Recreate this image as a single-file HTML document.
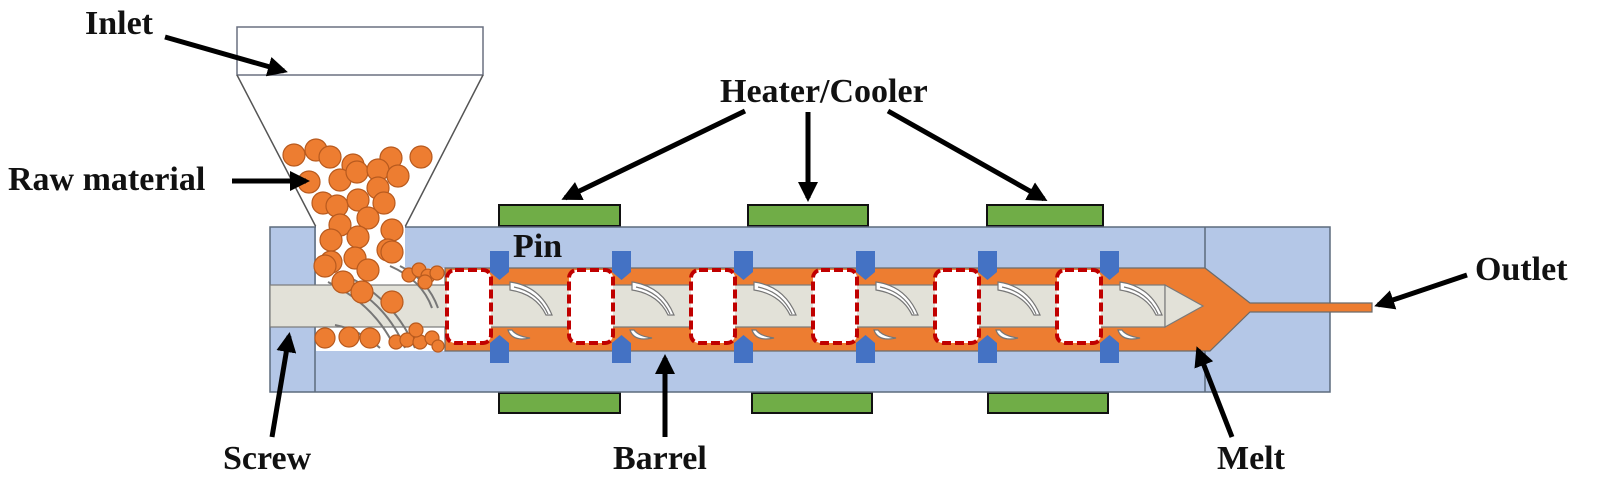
<!DOCTYPE html>
<html><head><meta charset="utf-8"><style>
html,body{margin:0;padding:0;background:#fff;}
svg{display:block;}
text{font-family:"Liberation Serif",serif;font-weight:bold;font-size:34px;fill:#111;}
</style></head><body>
<svg width="1600" height="482" viewBox="0 0 1600 482" xmlns="http://www.w3.org/2000/svg">
<defs>
<marker id="ah" markerWidth="4" markerHeight="4" refX="3.2" refY="2" orient="auto" markerUnits="strokeWidth">
<path d="M0,0 L4,2 L0,4 Z" fill="#000"/></marker>
</defs>
<rect x="237" y="27" width="246" height="48" fill="#fff" stroke="#6a7080" stroke-width="1.5"/>
<path d="M237,75 L316,227 M483,75 L405,227" stroke="#555" stroke-width="1.5" fill="none"/>
<g fill="#70ad47" stroke="#111" stroke-width="2">
<rect x="499" y="205" width="121" height="21"/>
<rect x="748" y="205" width="120" height="21"/>
<rect x="987" y="205" width="116" height="21"/>
<rect x="499" y="393" width="121" height="20"/>
<rect x="752" y="393" width="120" height="20"/>
<rect x="988" y="393" width="120" height="20"/>
</g>
<rect x="270" y="227" width="1060" height="165" fill="#b4c7e7" stroke="#5d6b7d" stroke-width="1.5"/>
<line x1="315" y1="227" x2="315" y2="392" stroke="#5d6b7d" stroke-width="1.5"/>
<line x1="1205" y1="227" x2="1205" y2="392" stroke="#5d6b7d" stroke-width="1.5"/>
<rect x="316" y="226" width="89" height="60" fill="#fff"/>
<rect x="316" y="268" width="130" height="83" fill="#fff"/>
<path d="M445,268 L1205,268 L1250,303 L1372,303 L1372,312 L1250,312 L1210,351 L445,351 Z" fill="#ed7d31" stroke="#6b6b6b" stroke-width="1.2"/>
<rect x="270" y="285" width="895" height="42" fill="#e2e1d8" stroke="#7a7a7a" stroke-width="1.2"/>
<path d="M1165,285 L1203,306 L1165,327 Z" fill="#e2e1d8" stroke="#7a7a7a" stroke-width="1.2"/>
<g fill="none" stroke="#777" stroke-width="2">
<path d="M335,278 Q385,300 405,348"/><path d="M347,276 Q395,300 415,348"/><path d="M328,282 Q375,305 395,348"/>
<path d="M390,266 Q422,280 432,308"/><path d="M400,266 Q428,280 438,308"/>
<path d="M335,325 Q360,330 380,348"/>
</g>
<g fill="#ed7d31" stroke="#b85a1e" stroke-width="1.2">
<circle cx="294" cy="155" r="11"/><circle cx="316" cy="150" r="11"/><circle cx="330" cy="157" r="11"/><circle cx="353" cy="165" r="11"/>
<circle cx="391" cy="158" r="11"/><circle cx="421" cy="157" r="11"/><circle cx="309" cy="182" r="11"/><circle cx="340" cy="180" r="11"/>
<circle cx="357" cy="172" r="11"/><circle cx="378" cy="170" r="11"/><circle cx="398" cy="176" r="11"/><circle cx="378" cy="188" r="11"/>
<circle cx="323" cy="203" r="11"/><circle cx="337" cy="206" r="11"/><circle cx="358" cy="200" r="11"/><circle cx="384" cy="203" r="11"/>
<circle cx="340" cy="225" r="11"/><circle cx="368" cy="218" r="11"/><circle cx="392" cy="230" r="11"/><circle cx="331" cy="240" r="11"/>
<circle cx="358" cy="237" r="11"/><circle cx="388" cy="250" r="11"/><circle cx="331" cy="262" r="11"/><circle cx="355" cy="258" r="11"/>
<circle cx="368" cy="270" r="11"/><circle cx="392" cy="252" r="11"/><circle cx="343" cy="282" r="11"/><circle cx="362" cy="292" r="11"/>
<circle cx="392" cy="302" r="11"/><circle cx="325" cy="266" r="11"/>
<circle cx="325" cy="338" r="10"/><circle cx="349" cy="337" r="10"/><circle cx="370" cy="338" r="10"/>
<circle cx="409" cy="275" r="7"/><circle cx="419" cy="270" r="7"/><circle cx="428" cy="276" r="7"/><circle cx="437" cy="273" r="7"/><circle cx="425" cy="282" r="7"/>
<circle cx="396" cy="342" r="7"/><circle cx="407" cy="340" r="7"/><circle cx="420" cy="342" r="7"/><circle cx="432" cy="338" r="7"/><circle cx="438" cy="346" r="6"/><circle cx="416" cy="330" r="7"/>
</g>
<g id="st">
<path d="M510,282 Q540,286 552,315 L546,315 Q536,294 510,290 Z" fill="#fff" stroke="#777" stroke-width="1.2"/>
<path d="M514,287 Q538,292 548,314" fill="none" stroke="#777" stroke-width="1.2"/>
<path d="M508,330 Q512,342 530,338 Q516,336 512,330 Z" fill="#fff" stroke="#777" stroke-width="1.2"/>
<rect x="447" y="270" width="44" height="73" rx="8" fill="#fff" stroke="#c00000" stroke-width="4" stroke-dasharray="9,4"/>
<path d="M490,251 L509,251 L509,272 L499.5,280 L490,272 Z" fill="#4472c4"/>
<path d="M490,363 L509,363 L509,343 L499.5,335 L490,343 Z" fill="#4472c4"/>
</g>
<use href="#st" transform="translate(122,0)"/>
<use href="#st" transform="translate(244,0)"/>
<use href="#st" transform="translate(366,0)"/>
<use href="#st" transform="translate(488,0)"/>
<use href="#st" transform="translate(610,0)"/>
<g stroke="#000" stroke-width="5" fill="none" marker-end="url(#ah)">
<line x1="165" y1="37" x2="284" y2="71"/>
<line x1="232" y1="181" x2="306" y2="181"/>
<line x1="745" y1="111" x2="565" y2="198"/>
<line x1="808" y1="112" x2="808" y2="198"/>
<line x1="888" y1="111" x2="1044" y2="199"/>
<line x1="272" y1="437" x2="289" y2="336"/>
<line x1="665" y1="437" x2="665" y2="358"/>
<line x1="1232" y1="437" x2="1198" y2="350"/>
<line x1="1467" y1="275" x2="1378" y2="305"/>
</g>
<text x="85" y="34">Inlet</text>
<text x="8" y="190">Raw material</text>
<text x="720" y="102">Heater/Cooler</text>
<text x="513" y="257">Pin</text>
<text x="1475" y="280">Outlet</text>
<text x="223" y="469">Screw</text>
<text x="613" y="469">Barrel</text>
<text x="1217" y="469">Melt</text>
</svg>
</body></html>
